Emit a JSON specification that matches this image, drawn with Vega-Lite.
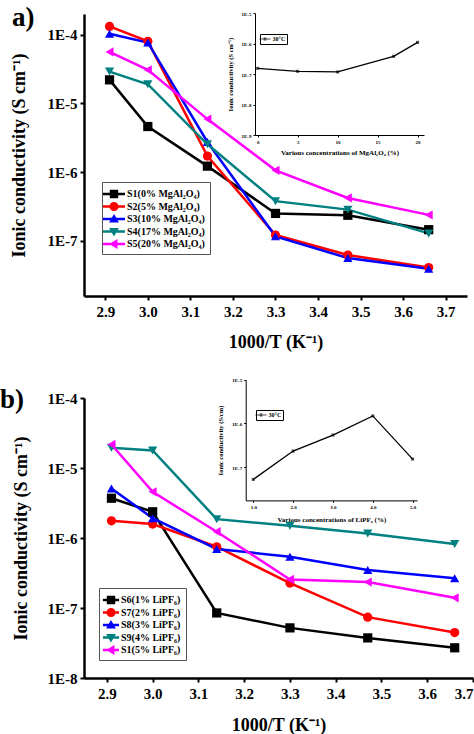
{
  "$schema": "https://vega.github.io/schema/vega-lite/v6.json",
  "background": "white",
  "padding": {"left": 0, "top": 4, "right": 0, "bottom": 0},
  "config": {
    "font": "Liberation Serif",
    "view": {"stroke": null},
    "axis": {"grid": false, "domainColor": "black", "tickColor": "black", "labelColor": "black", "titleColor": "black", "labelFont": "Liberation Serif", "titleFont": "Liberation Serif", "labelFontWeight": "bold", "titleFontWeight": "bold"},
    "legend": {"labelFont": "Liberation Serif", "labelColor": "black"}
  },
  "datasets": {
    "mainA": [
      {"series": "S1(0% MgAl₂O₄)", "x": 2.91, "y": 2.2e-5}, {"series": "S1(0% MgAl₂O₄)", "x": 3.0, "y": 4.6e-6}, {"series": "S1(0% MgAl₂O₄)", "x": 3.14, "y": 1.22e-6}, {"series": "S1(0% MgAl₂O₄)", "x": 3.3, "y": 2.5e-7}, {"series": "S1(0% MgAl₂O₄)", "x": 3.47, "y": 2.35e-7}, {"series": "S1(0% MgAl₂O₄)", "x": 3.66, "y": 1.45e-7},
      {"series": "S2(5% MgAl₂O₄)", "x": 2.91, "y": 1.32e-4}, {"series": "S2(5% MgAl₂O₄)", "x": 3.0, "y": 8.0e-5}, {"series": "S2(5% MgAl₂O₄)", "x": 3.14, "y": 1.71e-6}, {"series": "S2(5% MgAl₂O₄)", "x": 3.3, "y": 1.21e-7}, {"series": "S2(5% MgAl₂O₄)", "x": 3.47, "y": 6.2e-8}, {"series": "S2(5% MgAl₂O₄)", "x": 3.66, "y": 4.07e-8},
      {"series": "S3(10% MgAl₂O₄)", "x": 2.91, "y": 1.03e-4}, {"series": "S3(10% MgAl₂O₄)", "x": 3.0, "y": 7.7e-5}, {"series": "S3(10% MgAl₂O₄)", "x": 3.14, "y": 2.74e-6}, {"series": "S3(10% MgAl₂O₄)", "x": 3.3, "y": 1.16e-7}, {"series": "S3(10% MgAl₂O₄)", "x": 3.47, "y": 5.6e-8}, {"series": "S3(10% MgAl₂O₄)", "x": 3.66, "y": 3.9e-8},
      {"series": "S4(17% MgAl₂O₄)", "x": 2.91, "y": 2.9e-5}, {"series": "S4(17% MgAl₂O₄)", "x": 3.0, "y": 1.9e-5}, {"series": "S4(17% MgAl₂O₄)", "x": 3.14, "y": 2.54e-6}, {"series": "S4(17% MgAl₂O₄)", "x": 3.3, "y": 3.77e-7}, {"series": "S4(17% MgAl₂O₄)", "x": 3.47, "y": 2.84e-7}, {"series": "S4(17% MgAl₂O₄)", "x": 3.66, "y": 1.28e-7},
      {"series": "S5(20% MgAl₂O₄)", "x": 2.91, "y": 5.6e-5}, {"series": "S5(20% MgAl₂O₄)", "x": 3.0, "y": 3.07e-5}, {"series": "S5(20% MgAl₂O₄)", "x": 3.14, "y": 5.9e-6}, {"series": "S5(20% MgAl₂O₄)", "x": 3.3, "y": 1.06e-6}, {"series": "S5(20% MgAl₂O₄)", "x": 3.47, "y": 4.2e-7}, {"series": "S5(20% MgAl₂O₄)", "x": 3.66, "y": 2.38e-7}
    ],
    "insetA": [
      {"c": 0, "y": 1.55e-7}, {"c": 5, "y": 1.24e-7}, {"c": 10, "y": 1.18e-7}, {"c": 17, "y": 3.85e-7}, {"c": 20, "y": 1.11e-6}
    ],
    "mainB": [
      {"series": "S6(1% LiPF₆)", "x": 2.91, "y": 3.7e-6}, {"series": "S6(1% LiPF₆)", "x": 3.0, "y": 2.37e-6}, {"series": "S6(1% LiPF₆)", "x": 3.14, "y": 8.5e-8}, {"series": "S6(1% LiPF₆)", "x": 3.3, "y": 5.2e-8}, {"series": "S6(1% LiPF₆)", "x": 3.47, "y": 3.74e-8}, {"series": "S6(1% LiPF₆)", "x": 3.66, "y": 2.7e-8},
      {"series": "S7(2% LiPF₆)", "x": 2.91, "y": 1.76e-6}, {"series": "S7(2% LiPF₆)", "x": 3.0, "y": 1.58e-6}, {"series": "S7(2% LiPF₆)", "x": 3.14, "y": 7.5e-7}, {"series": "S7(2% LiPF₆)", "x": 3.3, "y": 2.27e-7}, {"series": "S7(2% LiPF₆)", "x": 3.47, "y": 7.4e-8}, {"series": "S7(2% LiPF₆)", "x": 3.66, "y": 4.46e-8},
      {"series": "S8(3% LiPF₆)", "x": 2.91, "y": 5.1e-6}, {"series": "S8(3% LiPF₆)", "x": 3.0, "y": 1.92e-6}, {"series": "S8(3% LiPF₆)", "x": 3.14, "y": 6.98e-7}, {"series": "S8(3% LiPF₆)", "x": 3.3, "y": 5.4e-7}, {"series": "S8(3% LiPF₆)", "x": 3.47, "y": 3.5e-7}, {"series": "S8(3% LiPF₆)", "x": 3.66, "y": 2.67e-7},
      {"series": "S9(4% LiPF₆)", "x": 2.91, "y": 1.95e-5}, {"series": "S9(4% LiPF₆)", "x": 3.0, "y": 1.78e-5}, {"series": "S9(4% LiPF₆)", "x": 3.14, "y": 1.86e-6}, {"series": "S9(4% LiPF₆)", "x": 3.3, "y": 1.5e-6}, {"series": "S9(4% LiPF₆)", "x": 3.47, "y": 1.16e-6}, {"series": "S9(4% LiPF₆)", "x": 3.66, "y": 8.2e-7},
      {"series": "S1(5% LiPF₆)", "x": 2.91, "y": 2.17e-5}, {"series": "S1(5% LiPF₆)", "x": 3.0, "y": 4.56e-6}, {"series": "S1(5% LiPF₆)", "x": 3.14, "y": 1.23e-6}, {"series": "S1(5% LiPF₆)", "x": 3.3, "y": 2.56e-7}, {"series": "S1(5% LiPF₆)", "x": 3.47, "y": 2.35e-7}, {"series": "S1(5% LiPF₆)", "x": 3.66, "y": 1.4e-7}
    ],
    "insetB": [
      {"c": 1, "y": 5.2e-8}, {"c": 2, "y": 2.32e-7}, {"c": 3, "y": 5.4e-7}, {"c": 4, "y": 1.48e-6}, {"c": 5, "y": 1.52e-7}
    ]
  },
  "concat": [
    {
      "width": 383,
      "height": 282,
      "title": {"text": "a)", "anchor": "start", "frame": "bounds", "fontSize": 27, "fontWeight": "bold", "font": "Liberation Serif", "color": "black", "offset": -21, "dx": 2},
      "layer": [
        {
          "data": {"name": "mainA"},
          "layer": [
            {
              "mark": {"type": "line", "strokeWidth": 2.5},
              "encoding": {
                "x": {"field": "x", "type": "quantitative", "scale": {"domain": [2.85, 3.75], "nice": false, "zero": false},
                  "axis": {"orient": "bottom", "values": [2.9, 3.0, 3.1, 3.2, 3.3, 3.4, 3.5, 3.6, 3.7], "format": ".1f", "title": "1000/T (K⁻¹)", "labelFontSize": 15, "titleFontSize": 18, "domainWidth": 2.5, "tickWidth": 2, "tickSize": 4, "labelPadding": 4, "titlePadding": 14}},
                "y": {"field": "y", "type": "quantitative", "scale": {"type": "log", "domain": [1.57e-8, 2.0e-4], "nice": false},
                  "axis": {"orient": "left", "values": [1e-4, 1e-5, 1e-6, 1e-7], "labelExpr": "'1E' + round(log(datum.value)/LN10)", "title": "Ionic conductivity (S cm⁻¹)", "labelFontSize": 15, "titleFontSize": 18, "domainWidth": 2.5, "tickWidth": 2, "tickSize": 4, "labelPadding": 3, "titlePadding": 19}},
                "color": {"field": "series", "type": "nominal", "scale": {"domain": ["S1(0% MgAl₂O₄)", "S2(5% MgAl₂O₄)", "S3(10% MgAl₂O₄)", "S4(17% MgAl₂O₄)", "S5(20% MgAl₂O₄)"], "range": ["#000000", "#ff0000", "#0000ff", "#008080", "#ff00ff"]}, "legend": null}
              }
            },
            {
              "mark": {"type": "point", "filled": true, "size": 85, "opacity": 1},
              "encoding": {
                "x": {"field": "x", "type": "quantitative"},
                "y": {"field": "y", "type": "quantitative"},
                "color": {"field": "series", "type": "nominal", "scale": {"domain": ["S1(0% MgAl₂O₄)", "S2(5% MgAl₂O₄)", "S3(10% MgAl₂O₄)", "S4(17% MgAl₂O₄)", "S5(20% MgAl₂O₄)"], "range": ["#000000", "#ff0000", "#0000ff", "#008080", "#ff00ff"]}, "legend": null},
                "shape": {"field": "series", "type": "nominal", "scale": {"domain": ["S1(0% MgAl₂O₄)", "S2(5% MgAl₂O₄)", "S3(10% MgAl₂O₄)", "S4(17% MgAl₂O₄)", "S5(20% MgAl₂O₄)"], "range": ["square", "circle", "triangle-up", "triangle-down", "triangle-left"]}, "legend": null}
              }
            },
            {
              "mark": {"type": "point", "filled": true, "opacity": 0},
              "encoding": {
                "x": {"field": "x", "type": "quantitative"},
                "y": {"field": "y", "type": "quantitative"},
                "color": {"field": "series", "type": "nominal", "scale": {"domain": ["S1(0% MgAl₂O₄)", "S2(5% MgAl₂O₄)", "S3(10% MgAl₂O₄)", "S4(17% MgAl₂O₄)", "S5(20% MgAl₂O₄)"], "range": ["#000000", "#ff0000", "#0000ff", "#008080", "#ff00ff"]},
                  "legend": {"orient": "none", "legendX": 18, "legendY": 168, "title": null, "symbolSize": 196, "symbolOpacity": 1, "symbolStrokeWidth": 0, "labelFontSize": 10, "labelFontWeight": "bold", "labelOffset": 6, "rowPadding": 0.5, "padding": 5, "strokeColor": "#555555", "fillColor": "white"}},
                "shape": {"field": "series", "type": "nominal", "scale": {"domain": ["S1(0% MgAl₂O₄)", "S2(5% MgAl₂O₄)", "S3(10% MgAl₂O₄)", "S4(17% MgAl₂O₄)", "S5(20% MgAl₂O₄)"], "range": ["M-1.57,-0.17H1.57V0.17H-1.57Z M-0.6,-0.6H0.6V0.6H-0.6Z", "M-1.57,-0.17H1.57V0.17H-1.57Z M-0.65,0A0.65,0.65 0 1,1 0.65,0A0.65,0.65 0 1,1 -0.65,0Z", "M-1.57,-0.17H1.57V0.17H-1.57Z M0,-0.7L0.7,0.5L-0.7,0.5Z", "M-1.57,-0.17H1.57V0.17H-1.57Z M-0.7,-0.5L0.7,-0.5L0,0.7Z", "M-1.57,-0.17H1.57V0.17H-1.57Z M-0.7,0L0.5,-0.7L0.5,0.7Z"]},
                  "legend": {"orient": "none", "legendX": 18, "legendY": 168, "title": null, "symbolSize": 196, "symbolOpacity": 1, "symbolStrokeWidth": 0, "labelFontSize": 10, "labelFontWeight": "bold", "labelOffset": 6, "rowPadding": 0.5, "padding": 5, "strokeColor": "#555555", "fillColor": "white"}}
              }
            }
          ],
          "resolve": {"scale": {"color": "independent", "shape": "independent"}}
        },
        {
          "data": {"name": "insetA"},
          "layer": [
            {
              "mark": {"type": "line", "color": "black", "strokeWidth": 1.3},
              "encoding": {
                "x": {"field": "c", "type": "quantitative", "scale": {"domain": [-0.33, 20.8], "range": [171, 340], "nice": false, "zero": false},
                  "axis": {"orient": "bottom", "offset": -161, "values": [0, 5, 10, 15, 20], "title": "Various concentrations of MgAl₂O₄ (%)", "labelFontSize": 5, "titleFontSize": 7, "domainWidth": 1, "tickWidth": 1, "tickSize": 2, "labelPadding": 2, "titlePadding": 4}},
                "y": {"field": "y", "type": "quantitative", "scale": {"type": "log", "domain": [1e-9, 1e-5], "range": [121, -0.7], "nice": false},
                  "axis": {"orient": "left", "offset": -171, "values": [1e-9, 1e-8, 1e-7, 1e-6, 1e-5], "labelExpr": "'1E' + round(log(datum.value)/LN10)", "title": "Ionic conductivity (S cm⁻¹)", "labelFontSize": 5, "titleFontSize": 6.5, "domainWidth": 1, "tickWidth": 1, "tickSize": 2, "labelPadding": 2, "titlePadding": 8}}
              }
            },
            {
              "mark": {"type": "point", "filled": true, "shape": "square", "size": 9},
              "encoding": {
                "x": {"field": "c", "type": "quantitative"},
                "y": {"field": "y", "type": "quantitative"},
                "color": {"datum": "30°C", "scale": {"range": ["black"]},
                  "legend": {"orient": "none", "legendX": 176, "legendY": 20, "title": null, "symbolType": "M-1.6,-0.14H1.6V0.14H-1.6Z M-0.4,-0.4H0.4V0.4H-0.4Z", "symbolSize": 49, "symbolStrokeWidth": 0, "labelFontSize": 6, "labelFontWeight": "bold", "labelOffset": 4, "padding": 1.5, "strokeColor": "black", "fillColor": "white"}}
              }
            }
          ]
        }
      ],
      "resolve": {"scale": {"x": "independent", "y": "independent", "color": "independent", "shape": "independent"}}
    },
    {
      "width": 389,
      "height": 280,
      "title": {"text": "b)", "anchor": "start", "frame": "bounds", "fontSize": 27, "fontWeight": "bold", "font": "Liberation Serif", "color": "black", "offset": -36, "dx": -12},
      "layer": [
        {
          "data": {"name": "mainB"},
          "layer": [
            {
              "mark": {"type": "line", "strokeWidth": 2.5},
              "encoding": {
                "x": {"field": "x", "type": "quantitative", "scale": {"domain": [2.85, 3.7], "nice": false, "zero": false},
                  "axis": {"orient": "bottom", "values": [2.9, 3.0, 3.1, 3.2, 3.3, 3.4, 3.5, 3.6, 3.7], "format": ".1f", "title": "1000/T (K⁻¹)", "labelFontSize": 15, "titleFontSize": 18, "domainWidth": 2.5, "tickWidth": 2, "tickSize": 4, "labelPadding": 4, "titlePadding": 15}},
                "y": {"field": "y", "type": "quantitative", "scale": {"type": "log", "domain": [1e-8, 1e-4], "nice": false},
                  "axis": {"orient": "left", "values": [1e-4, 1e-5, 1e-6, 1e-7, 1e-8], "labelExpr": "'1E' + round(log(datum.value)/LN10)", "title": "Ionic conductivity (S cm⁻¹)", "labelFontSize": 15, "titleFontSize": 18, "domainWidth": 2.5, "tickWidth": 2, "tickSize": 4, "labelPadding": 3, "titlePadding": 17}},
                "color": {"field": "series", "type": "nominal", "scale": {"domain": ["S6(1% LiPF₆)", "S7(2% LiPF₆)", "S8(3% LiPF₆)", "S9(4% LiPF₆)", "S1(5% LiPF₆)"], "range": ["#000000", "#ff0000", "#0000ff", "#008080", "#ff00ff"]}, "legend": null}
              }
            },
            {
              "mark": {"type": "point", "filled": true, "size": 85, "opacity": 1},
              "encoding": {
                "x": {"field": "x", "type": "quantitative"},
                "y": {"field": "y", "type": "quantitative"},
                "color": {"field": "series", "type": "nominal", "scale": {"domain": ["S6(1% LiPF₆)", "S7(2% LiPF₆)", "S8(3% LiPF₆)", "S9(4% LiPF₆)", "S1(5% LiPF₆)"], "range": ["#000000", "#ff0000", "#0000ff", "#008080", "#ff00ff"]}, "legend": null},
                "shape": {"field": "series", "type": "nominal", "scale": {"domain": ["S6(1% LiPF₆)", "S7(2% LiPF₆)", "S8(3% LiPF₆)", "S9(4% LiPF₆)", "S1(5% LiPF₆)"], "range": ["square", "circle", "triangle-up", "triangle-down", "triangle-left"]}, "legend": null}
              }
            },
            {
              "mark": {"type": "point", "filled": true, "opacity": 0},
              "encoding": {
                "x": {"field": "x", "type": "quantitative"},
                "y": {"field": "y", "type": "quantitative"},
                "color": {"field": "series", "type": "nominal", "scale": {"domain": ["S6(1% LiPF₆)", "S7(2% LiPF₆)", "S8(3% LiPF₆)", "S9(4% LiPF₆)", "S1(5% LiPF₆)"], "range": ["#000000", "#ff0000", "#0000ff", "#008080", "#ff00ff"]},
                  "legend": {"orient": "none", "legendX": 15, "legendY": 190, "title": null, "symbolSize": 196, "symbolOpacity": 1, "symbolStrokeWidth": 0, "labelFontSize": 10, "labelFontWeight": "bold", "labelOffset": 3, "rowPadding": 0.5, "padding": 5, "strokeColor": "#555555", "fillColor": "white"}},
                "shape": {"field": "series", "type": "nominal", "scale": {"domain": ["S6(1% LiPF₆)", "S7(2% LiPF₆)", "S8(3% LiPF₆)", "S9(4% LiPF₆)", "S1(5% LiPF₆)"], "range": ["M-1.15,-0.17H1.15V0.17H-1.15Z M-0.6,-0.6H0.6V0.6H-0.6Z", "M-1.15,-0.17H1.15V0.17H-1.15Z M-0.65,0A0.65,0.65 0 1,1 0.65,0A0.65,0.65 0 1,1 -0.65,0Z", "M-1.15,-0.17H1.15V0.17H-1.15Z M0,-0.7L0.7,0.5L-0.7,0.5Z", "M-1.15,-0.17H1.15V0.17H-1.15Z M-0.7,-0.5L0.7,-0.5L0,0.7Z", "M-1.15,-0.17H1.15V0.17H-1.15Z M-0.7,0L0.5,-0.7L0.5,0.7Z"]},
                  "legend": {"orient": "none", "legendX": 15, "legendY": 190, "title": null, "symbolSize": 196, "symbolOpacity": 1, "symbolStrokeWidth": 0, "labelFontSize": 10, "labelFontWeight": "bold", "labelOffset": 3, "rowPadding": 0.5, "padding": 5, "strokeColor": "#555555", "fillColor": "white"}}
              }
            }
          ],
          "resolve": {"scale": {"color": "independent", "shape": "independent"}}
        },
        {
          "data": {"name": "insetB"},
          "layer": [
            {
              "mark": {"type": "line", "color": "black", "strokeWidth": 1.3},
              "encoding": {
                "x": {"field": "c", "type": "quantitative", "scale": {"domain": [0.81, 5.11], "range": [161.7, 333], "nice": false, "zero": false},
                  "axis": {"orient": "bottom", "offset": -177.6, "values": [1, 2, 3, 4, 5], "title": "Various concentrations of LiPF₆ (%)", "labelFontSize": 5, "titleFontSize": 7, "domainWidth": 1, "tickWidth": 1, "tickSize": 2, "labelPadding": 2, "titlePadding": 6}},
                "y": {"field": "y", "type": "quantitative", "scale": {"type": "log", "domain": [1.72e-8, 1e-5], "range": [102.4, -18.3], "nice": false},
                  "axis": {"orient": "left", "offset": -161.7, "values": [1e-7, 1e-6, 1e-5], "labelExpr": "'1E' + round(log(datum.value)/LN10)", "title": "Ionic conductivity (S/cm)", "labelFontSize": 5, "titleFontSize": 6.5, "domainWidth": 1, "tickWidth": 1, "tickSize": 2, "labelPadding": 2, "titlePadding": 8}}
              }
            },
            {
              "mark": {"type": "point", "filled": true, "shape": "square", "size": 9},
              "encoding": {
                "x": {"field": "c", "type": "quantitative"},
                "y": {"field": "y", "type": "quantitative"},
                "color": {"datum": "30°C", "scale": {"range": ["black"]},
                  "legend": {"orient": "none", "legendX": 172, "legendY": 12, "title": null, "symbolType": "M-1.6,-0.14H1.6V0.14H-1.6Z M-0.4,-0.4H0.4V0.4H-0.4Z", "symbolSize": 49, "symbolStrokeWidth": 0, "labelFontSize": 6, "labelFontWeight": "bold", "labelOffset": 4, "padding": 1.5, "strokeColor": "black", "fillColor": "white"}}
              }
            }
          ]
        }
      ],
      "resolve": {"scale": {"x": "independent", "y": "independent", "color": "independent", "shape": "independent"}}
    }
  ],
  "columns": 1,
  "align": "none",
  "spacing": 26,
  "resolve": {"scale": {"color": "independent", "shape": "independent"}}
}
